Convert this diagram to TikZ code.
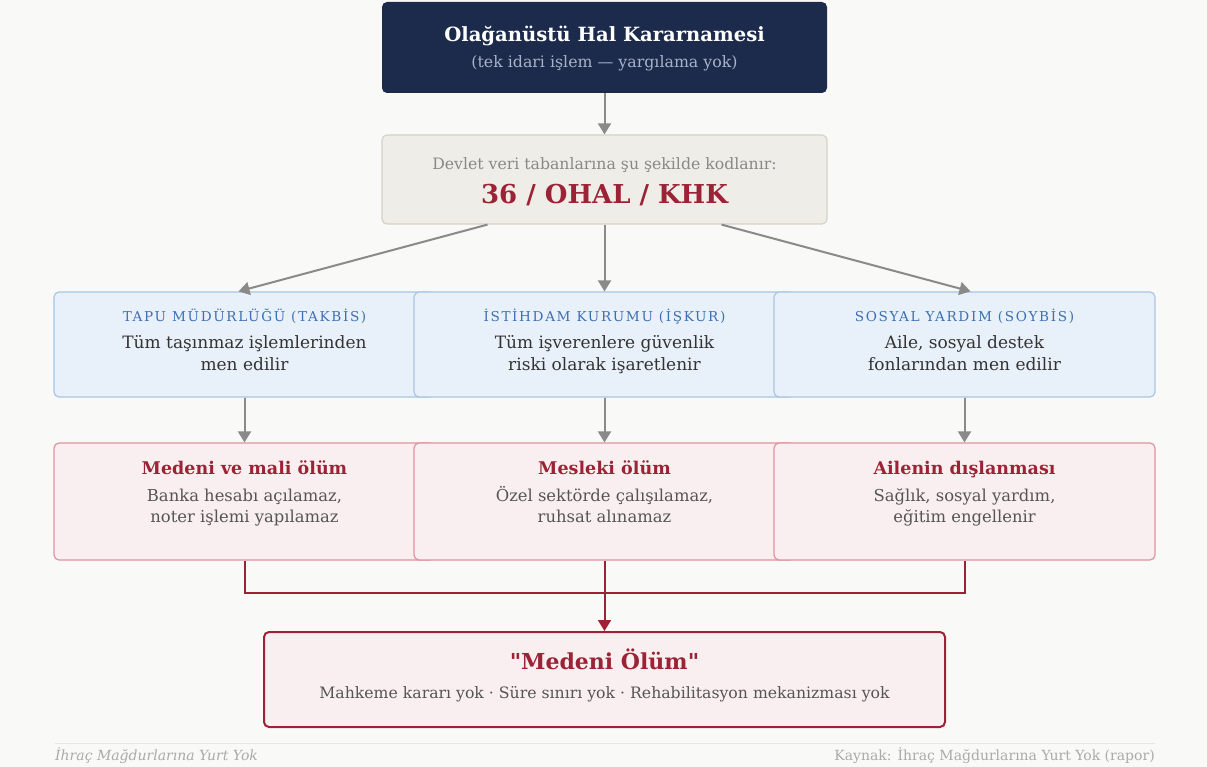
\documentclass[tikz,border=0pt]{standalone}
\usepackage{fontspec}
\setmainfont{DejaVu Serif}[Ligatures=TeXOff]
\newfontfamily\capsfont[LetterSpace=12]{DejaVu Serif}
\usetikzlibrary{arrows.meta,positioning,calc}

\definecolor{pagebg}{HTML}{F9F9F8}
\definecolor{navy}{HTML}{1C2B4B}
\definecolor{navysub}{HTML}{A8B2C8}
\definecolor{sandfill}{HTML}{EFEDE8}
\definecolor{sandline}{HTML}{D8D2C4}
\definecolor{softgray}{HTML}{888888}
\definecolor{wine}{HTML}{9B2335}
\definecolor{arrowgray}{HTML}{8A8A8A}
\definecolor{bluefill}{HTML}{E8F0FA}
\definecolor{blueline}{HTML}{A9C6E2}
\definecolor{bluetext}{HTML}{3E6FB0}
\definecolor{inkdark}{HTML}{333333}
\definecolor{inkmid}{HTML}{555555}
\definecolor{pinkfill}{HTML}{FAEFF0}
\definecolor{pinkline}{HTML}{E0939E}
\definecolor{footline}{HTML}{E6E6E6}
\definecolor{foottext}{HTML}{AAAAAA}

\begin{document}
\begin{tikzpicture}[
    x=1pt, y=-1pt,
    panel/.style={rounded corners=5pt, inner sep=0pt},
    darkbox/.style={panel, fill=navy, minimum width=445pt, minimum height=91pt},
    codebox/.style={panel, fill=sandfill, draw=sandline, line width=1.2pt, minimum width=445pt, minimum height=89pt},
    dbbox/.style={panel, fill=bluefill, draw=blueline, line width=1.2pt, minimum width=381pt, minimum height=105pt},
    effbox/.style={panel, fill=pinkfill, draw=pinkline, line width=1.2pt, minimum width=381pt, minimum height=117pt},
    finalbox/.style={panel, fill=pinkfill, draw=wine, line width=2pt, minimum width=681pt, minimum height=95pt},
    txt/.style={anchor=base, inner sep=0pt},
    arrow/.style={-{Triangle[length=11pt, width=13pt]}, draw=arrowgray, fill=arrowgray, line width=2pt},
    link/.style={draw=wine, line width=2pt}
  ]
  \fill[pagebg] (0,0) rectangle (1207,767);
  \useasboundingbox (0,0) rectangle (1207,767);

  % top decree and coding
  \node[darkbox] (ohal) at (604.5,47.5) {};
  \node[txt, text=white, font=\fontsize{19.6}{24}\bfseries] (ohaltitle) at ($(ohal.north)+(0,39.5)$) {Olağanüstü Hal Kararnamesi};
  \node[txt, text=navysub, font=\fontsize{15.8}{19}\selectfont] (ohalsub) at ($(ohal.north)+(0,65.5)$) {(tek idari işlem — yargılama yok)};

  \node[codebox] (kod) at (604.5,179.5) {};
  \node[txt, text=softgray, font=\fontsize{15.7}{19}\selectfont] (kodnote) at ($(kod.north)+(0,35)$) {Devlet veri tabanlarına şu şekilde kodlanır:};
  \node[txt, text=wine, font=\fontsize{26}{30}\bfseries] (kodcode) at ($(kod.north)+(0,69)$) {36 / OHAL / KHK};

  % databases
  \node[dbbox] (tapu) at (244.5,344.5) {};
  \node[dbbox] (iskur) at (604.5,344.5) {};
  \node[dbbox] (soy) at (964.5,344.5) {};
  \foreach \nm/\head/\linea/\lineb in {
      tapu/TAPU MÜDÜRLÜĞÜ (TAKBİS)/Tüm taşınmaz işlemlerinden/men edilir,
      iskur/İSTİHDAM KURUMU (İŞKUR)/Tüm işverenlere güvenlik/riski olarak işaretlenir,
      soy/SOSYAL YARDIM (SOYBİS)/{Aile, sosyal destek}/fonlarından men edilir} {
    \node[txt, text=bluetext, font=\capsfont\fontsize{13.6}{16}\selectfont] (\nm head) at ($(\nm.north)+(0,30)$) {\head};
    \node[txt, text=inkdark, font=\fontsize{17}{20}\selectfont] (\nm linea) at ($(\nm.north)+(0,57)$) {\linea};
    \node[txt, text=inkdark, font=\fontsize{17}{20}\selectfont] (\nm lineb) at ($(\nm.north)+(0,79)$) {\lineb};
  }

  % effects
  \node[effbox] (medeni) at (244.5,501.5) {};
  \node[effbox] (meslek) at (604.5,501.5) {};
  \node[effbox] (aile) at (964.5,501.5) {};
  \foreach \nm/\head/\linea/\lineb in {
      medeni/Medeni ve mali ölüm/{Banka hesabı açılamaz,}/noter işlemi yapılamaz,
      meslek/Mesleki ölüm/{Özel sektörde çalışılamaz,}/ruhsat alınamaz,
      aile/Ailenin dışlanması/{Sağlık, sosyal yardım,}/eğitim engellenir} {
    \node[txt, text=wine, font=\fontsize{17.5}{20}\bfseries] (\nm head) at ($(\nm.north)+(0,32)$) {\head};
    \node[txt, text=inkmid, font=\fontsize{16.4}{20}\selectfont] (\nm linea) at ($(\nm.north)+(0,58.7)$) {\linea};
    \node[txt, text=inkmid, font=\fontsize{16.4}{20}\selectfont] (\nm lineb) at ($(\nm.north)+(0,80.3)$) {\lineb};
  }

  % outcome
  \node[finalbox] (olum) at (604.5,679.5) {};
  \node[txt, text=wine, font=\fontsize{22}{26}\bfseries] (olumtitle) at ($(olum.north)+(0,38)$) {"Medeni Ölüm"};
  \node[txt, text=inkmid, font=\fontsize{15.7}{19}\selectfont] (olumsub) at ($(olum.north)+(0,67)$) {Mahkeme kararı yok · Süre sınırı yok · Rehabilitasyon mekanizması yok};

  % arrows
  \draw[arrow] (ohal.south) -- (kod.north);
  \draw[arrow] ($(kod.south)+(-117,0)$) -- ($(tapu.north)+(-6,0)$);
  \draw[arrow] (kod.south) -- (iskur.north);
  \draw[arrow] ($(kod.south)+(117,0)$) -- ($(soy.north)+(6,0)$);
  \draw[arrow] (tapu.south) -- (medeni.north);
  \draw[arrow] (iskur.south) -- (meslek.north);
  \draw[arrow] (soy.south) -- (aile.north);

  \coordinate (join) at (604.5,593);
  \draw[link] (medeni.south) |- (join) -| (aile.south);
  \draw[link, -{Triangle[length=11pt, width=13pt]}, fill=wine] (meslek.south) -- (olum.north);

  % footer
  \draw[footline, line width=1pt] (55,743) -- (1155,743);
  \node[txt, anchor=base west, text=foottext, font=\itshape\fontsize{14}{17}\selectfont] (footleft) at (55,760) {İhraç Mağdurlarına Yurt Yok};
  \node[txt, anchor=base east, text=foottext, font=\fontsize{14}{17}\selectfont] (footright) at (1155,760) {Kaynak: İhraç Mağdurlarına Yurt Yok (rapor)};
\end{tikzpicture}
\end{document}
